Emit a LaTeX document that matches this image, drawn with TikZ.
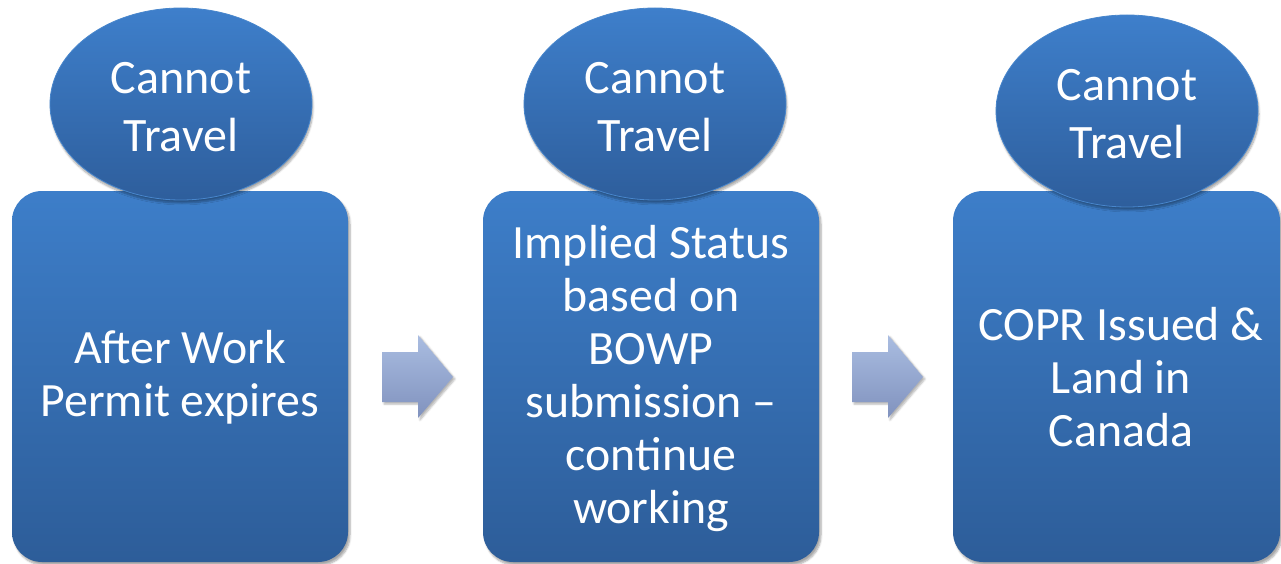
\documentclass[tikz,border=0pt]{standalone}
\usepackage{fontspec}
\setmainfont{Carlito}
\usetikzlibrary{shadows.blur}
\definecolor{boxtop}{RGB}{61,126,201}
\definecolor{boxbot}{RGB}{45,93,153}
\definecolor{elltop}{RGB}{62,127,203}
\definecolor{ellbot}{RGB}{46,94,156}
\definecolor{ellrim}{RGB}{72,134,204}
\definecolor{arrtop}{RGB}{170,189,225}
\definecolor{arrbot}{RGB}{128,146,190}
\tikzset{
  stagebox/.style={rounded corners=30pt, top color=boxtop, bottom color=boxbot,
    draw=none, blur shadow={shadow xshift=2pt, shadow yshift=-3pt, shadow blur steps=6, shadow opacity=35}},
  stagetext/.style={text=white, align=center, font=\fontsize{47.8}{53}\selectfont},
  travelell/.style={top color=elltop, bottom color=ellbot, draw=ellrim, line width=0.8pt,
    blur shadow={shadow xshift=1pt, shadow yshift=-3pt, shadow blur steps=6, shadow opacity=35}},
  traveltext/.style={text=white, align=center, font=\fontsize{48}{58}\selectfont},
  flowarrow/.style={top color=arrtop, bottom color=arrbot, draw=none,
    blur shadow={shadow xshift=2pt, shadow yshift=-2pt, shadow blur steps=5, shadow opacity=30}}
}
\begin{document}
\begin{tikzpicture}[x=1pt,y=-1pt]
\useasboundingbox (0,0) rectangle (1281,564);
% boxes
\path[stagebox] (12,191) rectangle (348,562);
\path[stagebox] (483,191) rectangle (819,562);
\path[stagebox] (953,191) rectangle (1280,562);
\node[stagetext] (b1) at (180,377) {After Work\\Permit expires};
\node[stagetext] (b2) at (651,379) {Implied Status\\based on\\BOWP\\submission –\\continue\\working};
\node[stagetext] (b3) at (1121,377) {COPR Issued \&\\Land in\\Canada};
% ellipses
\path[travelell] (181,104) ellipse [x radius=131, y radius=96];
\path[travelell] (655,104) ellipse [x radius=131, y radius=96];
\path[travelell] (1127,111) ellipse [x radius=131, y radius=96];
\node[traveltext] (e1) at (181,107) {Cannot\\Travel};
\node[traveltext] (e2) at (655,107) {Cannot\\Travel};
\node[traveltext] (e3) at (1127,114) {Cannot\\Travel};
% arrows
\path[flowarrow] (382,352) -- (418,352) -- (418,335) -- (453,377) -- (418,418) -- (418,402) -- (382,402) -- cycle;
\path[flowarrow] (852,352) -- (888,352) -- (888,335) -- (923,377) -- (888,418) -- (888,402) -- (852,402) -- cycle;
\end{tikzpicture}
\end{document}
